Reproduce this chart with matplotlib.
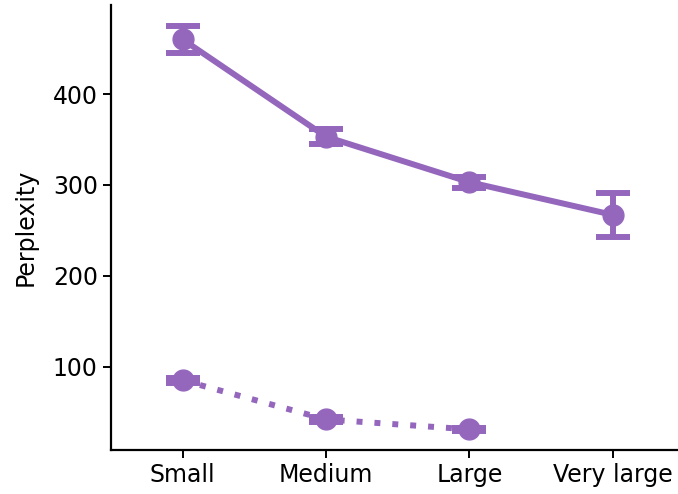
import numpy as np
import matplotlib.pyplot as plt

# model sizes on the x axis
sizes = ["Small", "Medium", "Large", "Very large"]

# solid series: mean perplexity and error half-widths
solid_mean = [460, 353, 303, 267]
solid_err = [15, 8, 6, 24]

# dotted series (only three sizes)
dotted_mean = [85, 42, 31]
dotted_err = [3, 3, 2]

color = "#9467bd"

fig = plt.figure(figsize=(6.78, 4.94), dpi=100)
ax = fig.add_axes([0.1637, 0.089, 0.846, 0.901])

x = np.arange(len(sizes))
ax.errorbar(x, solid_mean, yerr=solid_err, color=color, lw=4.3,
            marker="o", markersize=15, capsize=12.5, capthick=4.3,
            elinewidth=4.3)
xd = np.arange(len(dotted_mean))
ax.errorbar(xd, dotted_mean, yerr=dotted_err, color=color, lw=4.3,
            linestyle=(0, (1, 2)), marker="o", markersize=15,
            capsize=12.5, capthick=4.3, elinewidth=4.3)

ax.set_xticks(x)
ax.set_xticklabels(sizes, fontsize=17)
ax.set_xlim(-0.5, 3.5)
ax.set_ylim(8.3, 498)
ax.set_yticks([100, 200, 300, 400])
ax.tick_params(axis="y", labelsize=17)
ax.set_ylabel("Perplexity", fontsize=17, labelpad=11)

ax.spines["top"].set_visible(False)
ax.spines["right"].set_visible(False)
for s in ["left", "bottom"]:
    ax.spines[s].set_linewidth(1.6)
ax.tick_params(width=1.4, length=6)

fig.savefig("out.png", dpi=100)
